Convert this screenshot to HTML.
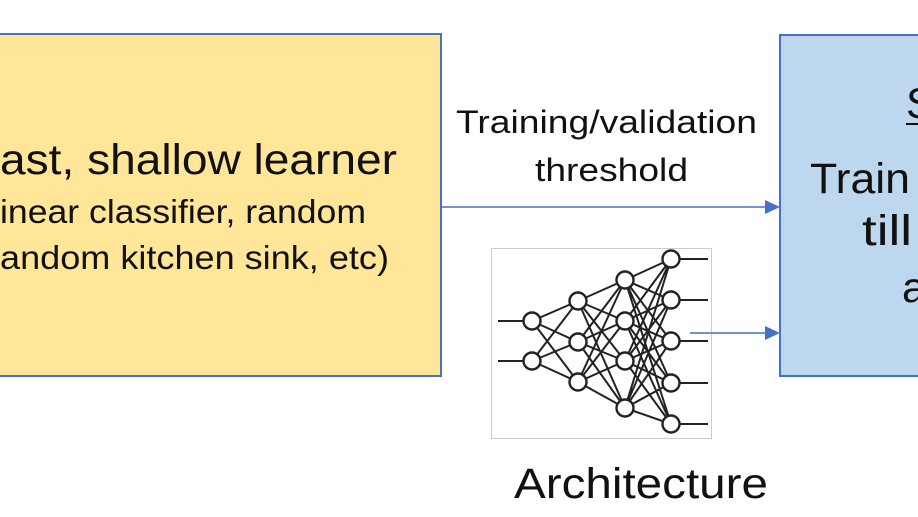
<!DOCTYPE html>
<html><head><meta charset="utf-8"><style>
html,body{margin:0;padding:0;background:#fff;width:918px;height:517px;overflow:hidden}
svg{display:block}
text{font-family:"Liberation Sans",sans-serif;fill:#111}
</style></head><body>
<svg width="918" height="517" viewBox="0 0 918 517" xmlns="http://www.w3.org/2000/svg">
<rect x="-5" y="34" width="446" height="342" fill="#FFE699" stroke="#4472C4" stroke-width="2"/>
<rect x="780" y="35" width="150" height="341" fill="#BDD7EE" stroke="#4472C4" stroke-width="2"/>
<text x="0" y="174" font-size="43" textLength="397" lengthAdjust="spacingAndGlyphs">ast, shallow learner</text>
<text x="0" y="223" font-size="33" textLength="366" lengthAdjust="spacingAndGlyphs">inear classifier, random</text>
<text x="0" y="269" font-size="33" textLength="389" lengthAdjust="spacingAndGlyphs">andom kitchen sink, etc)</text>
<text x="456" y="133" font-size="32" textLength="301" lengthAdjust="spacingAndGlyphs">Training/validation</text>
<text x="535" y="181" font-size="32" textLength="153" lengthAdjust="spacingAndGlyphs">threshold</text>
<text x="514" y="498" font-size="43" textLength="254" lengthAdjust="spacingAndGlyphs">Architecture</text>
<text x="906" y="118" font-size="43">S</text>
<line x1="906" y1="124" x2="930" y2="124" stroke="#111" stroke-width="2"/>
<text x="810" y="193" font-size="43" textLength="100" lengthAdjust="spacingAndGlyphs">Train</text>
<text x="862" y="245" font-size="43" textLength="50" lengthAdjust="spacingAndGlyphs">till</text>
<text x="902" y="302" font-size="43">a</text>
<line x1="441" y1="207" x2="766" y2="207" stroke="#4472C4" stroke-width="1.5"/>
<polygon points="780,207 765,200 765,214" fill="#4472C4"/>
<rect x="491.5" y="248.5" width="220" height="190" fill="#fff" stroke="#ccc" stroke-width="1"/>
<g stroke="#222" stroke-width="2" fill="none">
<path d="M498 321H524M498 361H524M679 259H708M679 300H708M679 341H708M679 383H708M679 424H708"/>
<path d="M532 321L578 301M532 321L578 342M532 321L578 382M532 361L578 301M532 361L578 342M532 361L578 382
M578 301L625 280M578 301L625 321M578 301L625 361M578 301L625 408
M578 342L625 280M578 342L625 321M578 342L625 361M578 342L625 408
M578 382L625 280M578 382L625 321M578 382L625 361M578 382L625 408
M625 280L671 259M625 280L671 300M625 280L671 341M625 280L671 383M625 280L671 424
M625 321L671 259M625 321L671 300M625 321L671 341M625 321L671 383M625 321L671 424
M625 361L671 259M625 361L671 300M625 361L671 341M625 361L671 383M625 361L671 424
M625 408L671 259M625 408L671 300M625 408L671 341M625 408L671 383M625 408L671 424"/>
</g>
<g stroke="#222" stroke-width="2.4" fill="#fff">
<circle cx="532" cy="321" r="8.5"/><circle cx="532" cy="361" r="8.5"/>
<circle cx="578" cy="301" r="8.5"/><circle cx="578" cy="342" r="8.5"/><circle cx="578" cy="382" r="8.5"/>
<circle cx="625" cy="280" r="8.5"/><circle cx="625" cy="321" r="8.5"/><circle cx="625" cy="361" r="8.5"/><circle cx="625" cy="408" r="8.5"/>
<circle cx="671" cy="259" r="8.5"/><circle cx="671" cy="300" r="8.5"/><circle cx="671" cy="341" r="8.5"/><circle cx="671" cy="383" r="8.5"/><circle cx="671" cy="424" r="8.5"/>
</g>
<line x1="690" y1="333" x2="766" y2="333" stroke="#4472C4" stroke-width="1.5"/>
<polygon points="780,333 765,326 765,340" fill="#4472C4"/>
</svg>
</body></html>
